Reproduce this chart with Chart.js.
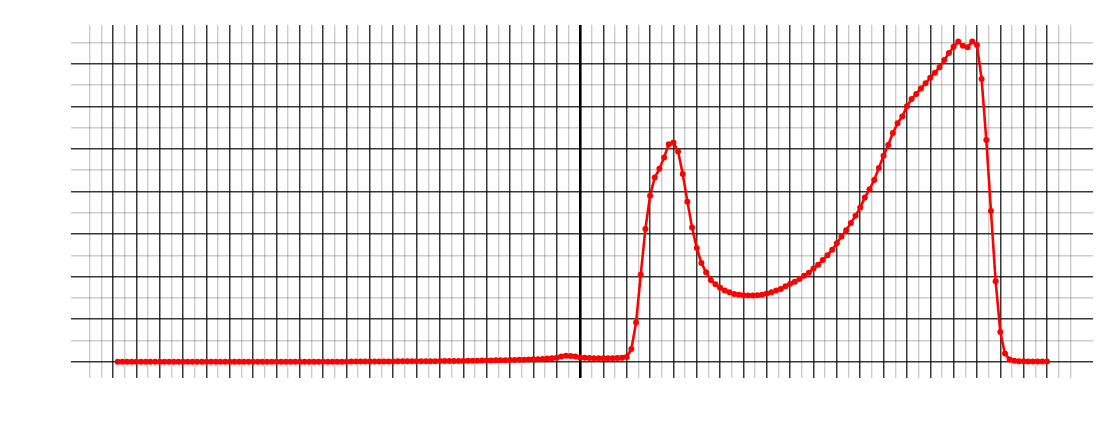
<!DOCTYPE html>
<html>
<head>
<meta charset="utf-8">
<script src="https://cdn.jsdelivr.net/npm/chart.js@4"></script>
<style>
  html, body { margin: 0; padding: 0; background: #ffffff; }
  #wrap { width: 1100px; height: 423px; }
</style>
</head>
<body>
<div id="wrap"><canvas id="c" width="1100" height="423"></canvas></div>
<script>
// Sample positions: x = X_START + X_STEP * index
const X_START = -19.8;
const X_STEP = 0.2;

// Series values, in segments
const flatLeft = [ // x = -19.8 .. -10
  0,0,0,0,0,0,0,0,0,0, 0,0,0,0,0,0,0,0,0,0,
  0,0,0,0,0,0,0,0,0,0, 0,0,0,0,0,0,0,0,0,0,
  0,0,0,0,0,0,0,0,0,0
];
const slowRise = [ // x = -9.8 .. -2.0
  0.003,0.003,0.004,0.004,0.005,0.005,0.006,0.006,0.007,0.007,
  0.008,0.008,0.009,0.009,0.01,0.01,0.011,0.012,0.013,0.014,
  0.015,0.016,0.017,0.018,0.019,0.02,0.022,0.024,0.026,0.028,
  0.03,0.032,0.034,0.036,0.038,0.04,0.043,0.047,0.051,0.055
];
const smallBump = [ // x = -1.8 .. 1.8
  0.06,0.066,0.074,0.083,0.095,
  0.125,0.14,0.135,0.12,0.1,
  0.09,0.085,0.082,0.08,0.08,0.082,0.083,0.085,0.09
];
const firstPeak = [ // x = 2.0 .. 5.0
  0.11,0.3,0.92,2.04,3.12,3.9,4.33,4.53,4.8,5.11,5.15,
  4.94,4.41,3.76,3.15,2.67
];
const trough = [ // x = 5.2 .. 9.0
  2.32,2.1,1.92,1.82,1.74,1.67,1.63,1.59,1.57,1.56,
  1.555,1.555,1.56,1.57,1.6,1.63,1.67,1.71,1.77,1.83
];
const secondPeak = [ // x = 9.2 .. 17.0
  1.88,1.94,2.02,2.09,2.19,2.28,2.39,2.5,2.63,2.78,
  2.94,3.09,3.26,3.43,3.62,3.86,4.05,4.27,4.55,4.84,
  5.09,5.37,5.6,5.76,6.0,6.17,6.29,6.42,6.54,6.67,
  6.79,6.92,7.09,7.25,7.4,7.52,7.42,7.39,7.52,7.44
];
const tail = [ // x = 17.2 .. 20
  6.64,5.21,3.54,1.89,0.7,0.19,0.05,
  0.02,0.01,0.01,0.005,0.005,0.003,0.003,0.002
];

const yValues = [].concat(flatLeft, slowRise, smallBump, firstPeak, trough, secondPeak, tail);
const points = yValues.map((y, i) => ({ x: +(X_START + X_STEP * i).toFixed(2), y: y }));

// Grid tick values
const xGridTicks = [];
for (let k = -42; k <= 42; k++) xGridTicks.push(k / 2);
const yGridTicks = [];
for (let k = 0; k <= 15; k++) yGridTicks.push(k / 2);

const DARK = 'rgba(0,0,0,0.78)';
const LIGHT = 'rgba(0,0,0,0.2)';

function xGridColor(ctx) {
  const v = ctx.tick ? ctx.tick.value : null;
  if (v === null) return 'rgba(0,0,0,0)';
  if (Number.isInteger(v) && Math.abs(v) <= 20) return v === 0 ? '#000' : DARK;
  return LIGHT;
}
function xGridWidth(ctx) {
  const v = ctx.tick ? ctx.tick.value : null;
  if (v === 0) return 2.6;
  if (Number.isInteger(v) && Math.abs(v) <= 20) return 1.5;
  return 1.4;
}
function yGridColor(ctx) {
  const v = ctx.tick ? ctx.tick.value : null;
  if (v === null) return 'rgba(0,0,0,0)';
  return Number.isInteger(v) ? DARK : LIGHT;
}
function yGridWidth(ctx) {
  const v = ctx.tick ? ctx.tick.value : null;
  return Number.isInteger(v) ? 1.5 : 1.4;
}

new Chart(document.getElementById('c'), {
  type: 'line',
  data: {
    datasets: [{
      data: points,
      borderColor: '#ff0000',
      backgroundColor: '#ff0000',
      borderWidth: 2.6,
      pointRadius: 3,
      pointBorderWidth: 0,
      pointBackgroundColor: '#ff0000',
      tension: 0,
      fill: false
    }]
  },
  options: {
    responsive: false,
    animation: false,
    devicePixelRatio: 1,
    layout: { padding: { left: 71, right: 7, top: 25, bottom: 45 } },
    plugins: { legend: { display: false }, tooltip: { enabled: false } },
    scales: {
      x: {
        type: 'linear',
        min: -21.8,
        max: 21.97,
        afterBuildTicks: (s) => { s.ticks = xGridTicks.map(v => ({ value: v })); },
        ticks: { display: false },
        border: { display: false },
        grid: { drawTicks: false, color: xGridColor, lineWidth: xGridWidth }
      },
      y: {
        type: 'linear',
        min: -0.383,
        max: 7.91,
        afterBuildTicks: (s) => { s.ticks = yGridTicks.map(v => ({ value: v })); },
        ticks: { display: false },
        border: { display: false },
        grid: { drawTicks: false, color: yGridColor, lineWidth: yGridWidth }
      }
    }
  }
});
</script>
</body>
</html>
